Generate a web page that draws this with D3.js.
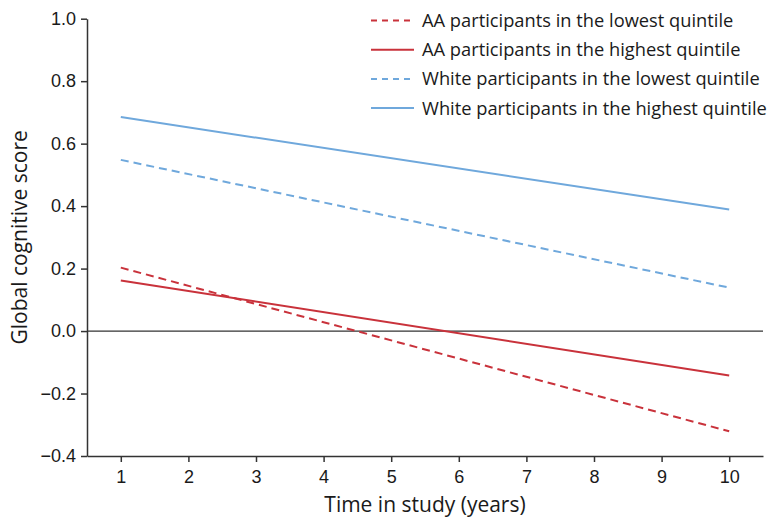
<!DOCTYPE html>
<html>
<head>
<meta charset="utf-8">
<script src="https://cdn.jsdelivr.net/npm/d3@7"></script>
<style>
  body { margin: 0; background: #fff; }
  svg { font-family: "Open Sans", sans-serif; }
</style>
</head>
<body>
<svg width="779" height="525"></svg>
<script>
// Данные: годы и значения на концах линий
const years = [1, 10];
const yTicks = [-0.4, -0.2, 0.0, 0.2, 0.4, 0.6, 0.8, 1.0];
const xTicks = [1, 2, 3, 4, 5, 6, 7, 8, 9, 10];

const seriesNames = [
    "AA participants in the lowest quintile",
    "AA participants in the highest quintile",
    "White participants in the lowest quintile",
    "White participants in the highest quintile"
];
const aaLowest = [0.203, -0.321];
const aaHighest = [0.162, -0.142];
const whiteLowest = [0.548, 0.139];
const whiteHighest = [0.685, 0.389];

const red = "#c9323b";
const blue = "#6fa8dc";

const series = [
    { name: seriesNames[0], values: aaLowest, color: red, dash: "8,5" },
    { name: seriesNames[1], values: aaHighest, color: red, dash: null },
    { name: seriesNames[2], values: whiteLowest, color: blue, dash: "8,5" },
    { name: seriesNames[3], values: whiteHighest, color: blue, dash: null }
];

const svg = d3.select("svg");
const area = { left: 87, right: 763, top: 18.7, bottom: 456 };

const scX = d3.scaleLinear().domain([0.5, 10.5]).range([area.left, area.right]);
const scY = d3.scaleLinear().domain([-0.4, 1.0]).range([area.bottom, area.top]);

// Оси
const axisX = svg.append("g")
    .attr("transform", `translate(0, ${area.bottom})`)
    .call(d3.axisBottom(scX).tickValues(xTicks).tickSize(6).tickPadding(8).tickSizeOuter(0));
const axisY = svg.append("g")
    .attr("transform", `translate(${area.left}, 0)`)
    .call(d3.axisLeft(scY).tickValues(yTicks).tickSize(6).tickPadding(5).tickSizeOuter(0)
        .tickFormat(d => d3.format(".1f")(d).replace("-", "\u2212")));

[axisX, axisY].forEach(g => {
    g.selectAll("path, line").attr("stroke", "#333").attr("stroke-width", 1.5);
    g.selectAll("text").attr("fill", "#1a1a1a").style("font-size", "18px");
});

// Нулевая линия
svg.append("line")
    .attr("x1", area.left).attr("x2", area.right)
    .attr("y1", scY(0)).attr("y2", scY(0))
    .attr("stroke", "#333").attr("stroke-width", 1.3);

// Линии серий
const line = d3.line().x((d, i) => scX(years[i])).y(d => scY(d));
series.forEach(s => {
    svg.append("path")
        .datum(s.values)
        .attr("fill", "none")
        .attr("stroke", s.color)
        .attr("stroke-width", 2)
        .attr("stroke-dasharray", s.dash)
        .attr("d", line);
});

// Легенда
const legend = svg.append("g");
series.forEach((s, i) => {
    const y = 20.5 + i * 29.2;
    legend.append("line")
        .attr("x1", 371).attr("x2", s.dash ? 410 : 414).attr("y1", y).attr("y2", y)
        .attr("stroke", s.color).attr("stroke-width", 2)
        .attr("stroke-dasharray", s.dash ? "6,5" : null);
    legend.append("text")
        .attr("x", 422).attr("y", y).attr("dy", "0.35em")
        .attr("fill", "#1a1a1a").style("font-size", "18.3px")
        .text(s.name);
});

// Подписи осей
svg.append("text")
    .attr("x", (area.left + area.right) / 2).attr("y", 512)
    .attr("text-anchor", "middle").attr("fill", "#1a1a1a")
    .style("font-size", "21px")
    .text("Time in study (years)");
svg.append("text")
    .attr("transform", `translate(27, ${(area.top + area.bottom) / 2}) rotate(-90)`)
    .attr("text-anchor", "middle").attr("fill", "#1a1a1a")
    .style("font-size", "21px")
    .text("Global cognitive score");
</script>
</body>
</html>
